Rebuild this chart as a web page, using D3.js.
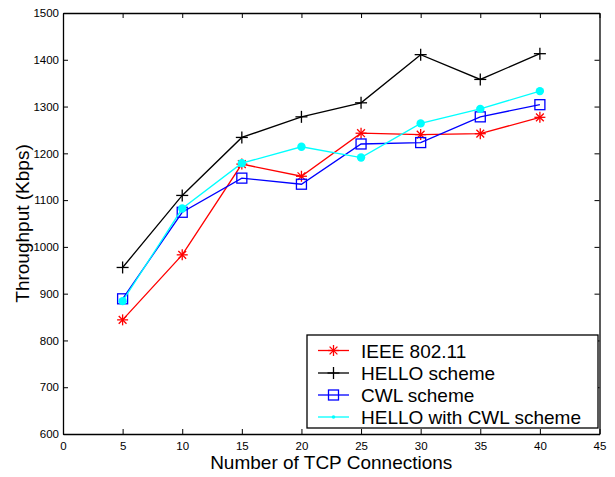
<!DOCTYPE html>
<html>
<head>
<meta charset="utf-8">
<script src="https://cdn.jsdelivr.net/npm/d3@7"></script>
<style>
  body { margin: 0; background: #fff; }
  svg { display: block; font-family: "Liberation Sans", Arial, sans-serif; }
</style>
</head>
<body>
<div id="chartContainer"></div>
<script>
var connections = [5, 10, 15, 20, 25, 30, 35, 40];

var ieee   = [844, 983, 1177, 1151, 1243, 1240, 1242, 1277];
var hello  = [956, 1110, 1234, 1278, 1308, 1411, 1358, 1413];
var cwl    = [889, 1074, 1147, 1134, 1220, 1223, 1278, 1304];
var helloCwl = [884, 1082, 1179, 1214, 1191, 1264, 1295, 1333];

var seriesNames = ["IEEE 802.11", "HELLO scheme", "CWL scheme", "HELLO with CWL scheme"];

var xTicks = [0, 5, 10, 15, 20, 25, 30, 35, 40, 45];
var yTicks = [600, 700, 800, 900, 1000, 1100, 1200, 1300, 1400, 1500];

var margin = {top: 13, right: 15.5, bottom: 43, left: 63},
    width = 615 - margin.left - margin.right,
    height = 477 - margin.top - margin.bottom;

var svg = d3.select("#chartContainer")
  .append("svg")
    .attr("width", 615)
    .attr("height", 477)
  .append("g")
    .attr("transform", "translate(" + margin.left + "," + margin.top + ")");

var x = d3.scaleLinear().domain([0, 45]).range([0, width]);
var y = d3.scaleLinear().domain([600, 1500]).range([height, 0]);

// axes, ticks point inward like matlab
svg.append("g")
  .attr("transform", "translate(0," + height + ")")
  .call(d3.axisBottom(x).tickValues(xTicks).tickFormat(d3.format("d"))
    .tickSizeInner(-5).tickSizeOuter(0).tickPadding(8));
svg.append("g")
  .call(d3.axisTop(x).tickValues(xTicks).tickSizeInner(-5).tickSizeOuter(0).tickFormat(""));
svg.append("g")
  .call(d3.axisLeft(y).tickValues(yTicks).tickFormat(d3.format("d"))
    .tickSizeInner(-5).tickSizeOuter(0).tickPadding(4));
svg.append("g")
  .attr("transform", "translate(" + width + ",0)")
  .call(d3.axisRight(y).tickValues(yTicks).tickSizeInner(-5).tickSizeOuter(0).tickFormat(""));

svg.selectAll(".domain").attr("stroke", "#000").attr("stroke-width", 1.3);
svg.selectAll(".tick line").attr("stroke", "#000");
svg.selectAll(".tick text").attr("font-size", 11.5).attr("fill", "#000")
  .attr("font-family", "Liberation Sans, Arial, sans-serif");

// axis labels
svg.append("text")
  .attr("x", width / 2)
  .attr("y", height + 34.5)
  .attr("text-anchor", "middle")
  .attr("font-size", 19)
  .text("Number of TCP Connections");
svg.append("text")
  .attr("transform", "translate(" + (-34.5) + "," + (height / 2) + ") rotate(-90)")
  .attr("text-anchor", "middle")
  .attr("font-size", 19)
  .text("Throughput (Kbps)");

// marker helpers
function drawMarker(g, kind, color, cx, cy) {
  if (kind === "star") {
    var r = 5.5;
    [0, 45, 90, 135].forEach(function(a) {
      var rad = a * Math.PI / 180;
      g.append("line")
        .attr("x1", cx - r * Math.cos(rad)).attr("y1", cy - r * Math.sin(rad))
        .attr("x2", cx + r * Math.cos(rad)).attr("y2", cy + r * Math.sin(rad))
        .attr("stroke", color).attr("stroke-width", 1.3);
    });
  } else if (kind === "plus") {
    var p = 6;
    g.append("line").attr("x1", cx - p).attr("x2", cx + p).attr("y1", cy).attr("y2", cy)
      .attr("stroke", color).attr("stroke-width", 1.3);
    g.append("line").attr("x1", cx).attr("x2", cx).attr("y1", cy - p).attr("y2", cy + p)
      .attr("stroke", color).attr("stroke-width", 1.3);
  } else if (kind === "square") {
    g.append("rect").attr("x", cx - 5).attr("y", cy - 5).attr("width", 10).attr("height", 10)
      .attr("fill", "none").attr("stroke", color).attr("stroke-width", 1.3);
  } else if (kind === "dot") {
    g.append("circle").attr("cx", cx).attr("cy", cy).attr("r", 4.2).attr("fill", color);
  } else if (kind === "smalldot") {
    g.append("circle").attr("cx", cx).attr("cy", cy).attr("r", 1.8).attr("fill", color);
  }
}

var series = [
  {name: seriesNames[0], values: ieee, color: "#ff0000", marker: "star"},
  {name: seriesNames[1], values: hello, color: "#000000", marker: "plus"},
  {name: seriesNames[2], values: cwl, color: "#0000ff", marker: "square"},
  {name: seriesNames[3], values: helloCwl, color: "#00ffff", marker: "dot"}
];

var line = d3.line()
  .x(function(d, i) { return x(connections[i]); })
  .y(function(d) { return y(d); });

series.forEach(function(s) {
  var g = svg.append("g");
  g.append("path")
    .datum(s.values)
    .attr("fill", "none")
    .attr("stroke", s.color)
    .attr("stroke-width", 1.3)
    .attr("d", line);
  s.values.forEach(function(v, i) {
    drawMarker(g, s.marker, s.color, x(connections[i]), y(v));
  });
});

// legend
var lx = 307 - margin.left, ly = 335 - margin.top, lw = 291, lh = 93;
var legend = svg.append("g").attr("transform", "translate(" + lx + "," + ly + ")");
legend.append("rect")
  .attr("width", lw).attr("height", lh)
  .attr("fill", "#fff").attr("stroke", "#000").attr("stroke-width", 1.3);

var rowY = [15.5, 38, 60, 82];
series.forEach(function(s, i) {
  var row = legend.append("g");
  row.append("line")
    .attr("x1", 11).attr("x2", 42)
    .attr("y1", rowY[i]).attr("y2", rowY[i])
    .attr("stroke", s.color).attr("stroke-width", 1.3);
  drawMarker(row, s.marker === "dot" ? "smalldot" : s.marker, s.color, 26.5, rowY[i]);
  row.append("text")
    .attr("x", 54)
    .attr("y", rowY[i] + 7)
    .attr("font-size", 19)
    .text(s.name);
});
</script>
</body>
</html>
